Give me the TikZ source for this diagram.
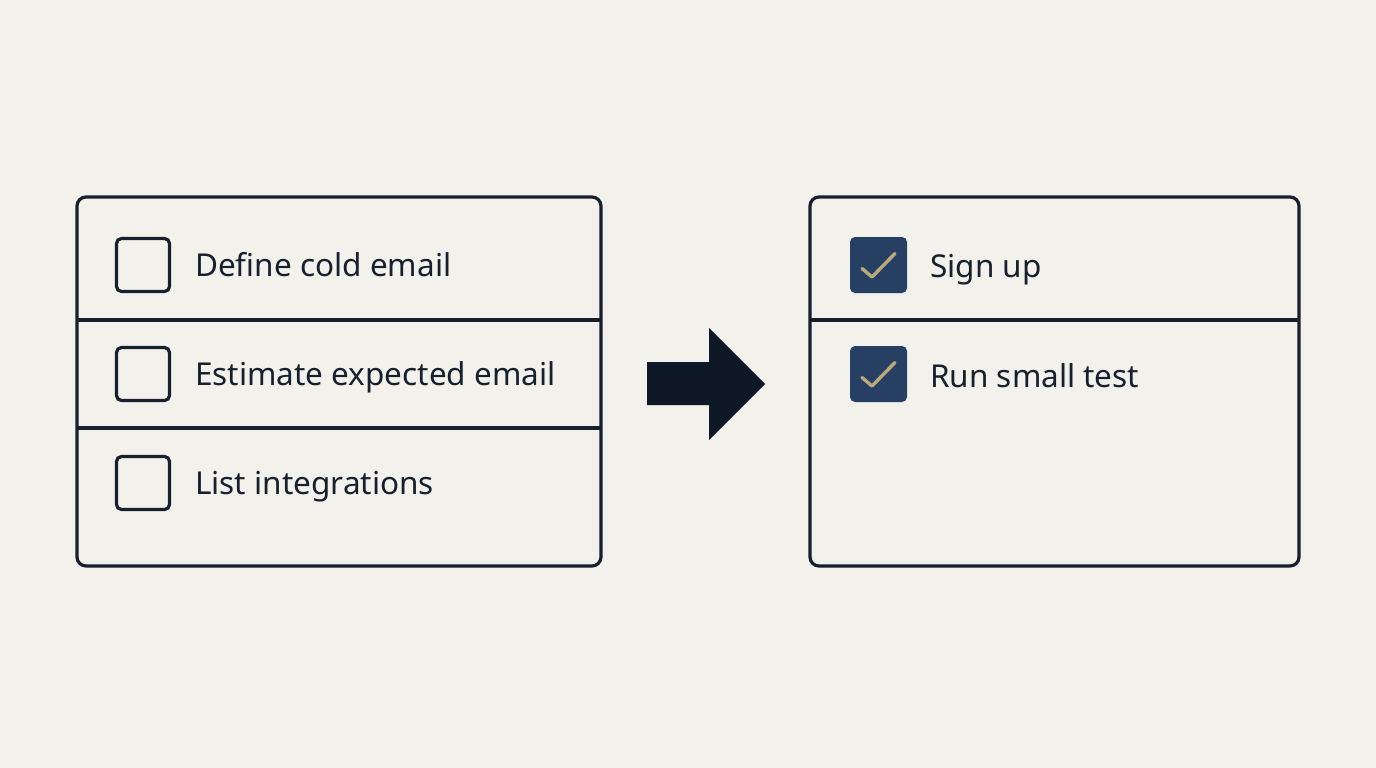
\documentclass[tikz,border=0pt]{standalone}
\usepackage{fontspec}
\setmainfont{Noto Sans}
\definecolor{bg}{HTML}{F2F1EC}
\definecolor{ink}{HTML}{17202C}
\definecolor{navy}{HTML}{263F62}
\definecolor{tan}{HTML}{B8A97E}
\definecolor{arrowc}{HTML}{0E1826}
\tikzset{
  panel/.style={draw=ink, line width=3.2pt, rounded corners=9pt},
  divider/.style={draw=ink, line width=3.2pt},
  openbox/.style={draw=ink, line width=3.2pt, rounded corners=5pt, minimum width=53pt, minimum height=53pt, inner sep=0pt},
  donebox/.style={fill=navy, rounded corners=5pt, minimum width=57pt, minimum height=56pt, inner sep=0pt},
  tick/.style={draw=tan, line width=3.4pt, line cap=round, line join=round},
  label/.style={anchor=base west, inner sep=0pt, text=ink, font=\fontsize{31.5}{36}\selectfont},
}
\begin{document}
\begin{tikzpicture}[x=1pt,y=-1pt]
\fill[bg] (0,0) rectangle (1376,768);
\useasboundingbox (0,0) rectangle (1376,768);
% left panel
\draw[panel] (77,197) rectangle (601,566);
\coordinate (l1a) at (77,320); \coordinate (l1b) at (601,320);
\coordinate (l2a) at (77,428); \coordinate (l2b) at (601,428);
\draw[divider] (l1a) -- (l1b);
\draw[divider] (l2a) -- (l2b);
\node[openbox] (b1) at (143,265) {};
\node[openbox] (b2) at (143,374) {};
\node[openbox] (b3) at (143,483) {};
\node[label] (t1) at (195,276) {Define cold email};
\node[label] (t2) at (195,385) {Estimate expected email};
\node[label] (t3) at (195,494) {List integrations};
% arrow
\fill[arrowc] (647,362) -- (709,362) -- (709,328) -- (765,384) -- (709,440) -- (709,405) -- (647,405) -- cycle;
% right panel
\draw[panel] (810,197) rectangle (1299,566);
\coordinate (r1a) at (810,320); \coordinate (r1b) at (1299,320);
\draw[divider] (r1a) -- (r1b);
\node[donebox] (c1) at (878.5,265) {};
\node[donebox] (c2) at (878.5,374) {};
\draw[tick] ([shift={(-16.5,3.5)}]c1.center) -- ([shift={(-6.5,12)}]c1.center) -- ([shift={(16.5,-11.5)}]c1.center);
\draw[tick] ([shift={(-16.5,3.5)}]c2.center) -- ([shift={(-6.5,12)}]c2.center) -- ([shift={(16.5,-11.5)}]c2.center);
\node[label] (s1) at (930,277) {Sign up};
\node[label] (s2) at (930,387) {Run small test};
\end{tikzpicture}
\end{document}
